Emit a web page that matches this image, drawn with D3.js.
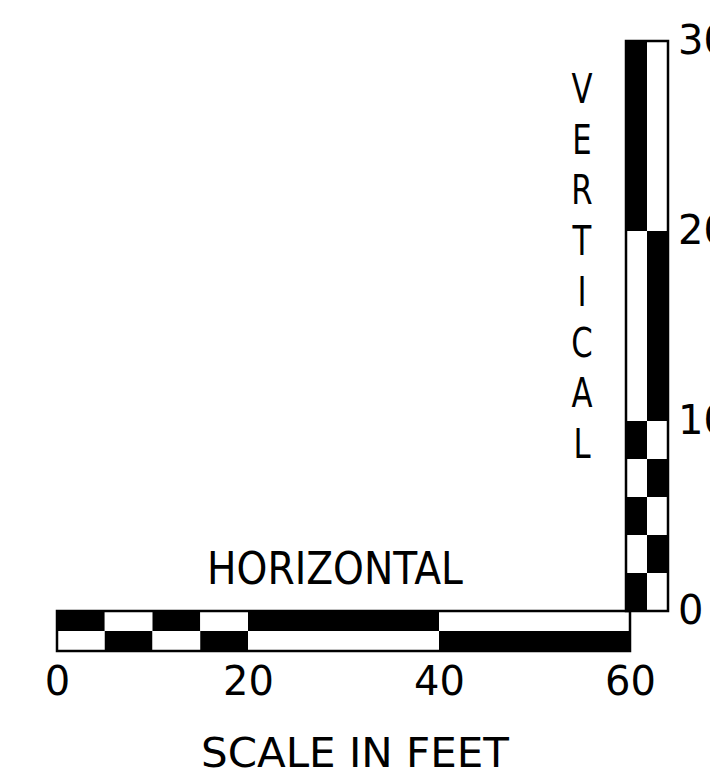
<!DOCTYPE html>
<html>
<head>
<meta charset="utf-8">
<script src="https://cdn.jsdelivr.net/npm/d3@7"></script>
<style>
  html, body { margin: 0; padding: 0; background: #fff; }
  svg text { font-family: "DejaVu Sans", sans-serif; fill: #000; }
</style>
</head>
<body>
<svg id="chart" width="710" height="774"></svg>
<script>
// ---- data ----
const hBreaks = [0, 5, 10, 15, 20, 40, 60];      // feet, horizontal bar segment edges
const hTopShade = [1, 0, 1, 0, 1, 0];             // 1 = dark in upper row
const vBreaks = [0, 2, 4, 6, 8, 10, 20, 30];      // feet, vertical bar segment edges
const vLeftShade = [1, 0, 1, 0, 1, 0, 1];         // 1 = dark in left column
const hTicks = [0, 20, 40, 60];
const vTicks = [0, 10, 20, 30];
const hLabel = "HORIZONTAL";
const vLabel = "VERTICAL";
const unitLabel = "SCALE IN FEET";

// ---- layout ----
const svg = d3.select("#chart");
const x = d3.scaleLinear().domain([0, 60]).range([57, 630]);
const y = d3.scaleLinear().domain([0, 30]).range([611, 41]);
const hBarTop = 611, hRowH = 20;
const vBarLeft = 626, vColW = 21;

function segs(breaks, shade) {
  return d3.pairs(breaks).map((p, i) => ({ a: p[0], b: p[1], s: shade[i] }));
}
const hSegs = segs(hBreaks, hTopShade);
const vSegs = segs(vBreaks, vLeftShade);

// horizontal bar
const hg = svg.append("g");
[0, 1].forEach(row => {
  hg.selectAll(null).data(hSegs).enter().append("rect")
    .attr("x", d => x(d.a)).attr("width", d => x(d.b) - x(d.a))
    .attr("y", hBarTop + row * hRowH).attr("height", hRowH)
    .attr("fill", d => ((row === 0 ? d.s : 1 - d.s) ? "#000" : "#fff"));
});
hg.append("rect").attr("x", x(0)).attr("y", hBarTop)
  .attr("width", x(60) - x(0)).attr("height", 2 * hRowH)
  .attr("fill", "none").attr("stroke", "#000").attr("stroke-width", 2.5);

// vertical bar
const vg = svg.append("g");
[0, 1].forEach(col => {
  vg.selectAll(null).data(vSegs).enter().append("rect")
    .attr("x", vBarLeft + col * vColW).attr("width", vColW)
    .attr("y", d => y(d.b)).attr("height", d => y(d.a) - y(d.b))
    .attr("fill", d => ((col === 0 ? d.s : 1 - d.s) ? "#000" : "#fff"));
});
vg.append("rect").attr("x", vBarLeft).attr("y", y(30))
  .attr("width", 2 * vColW).attr("height", y(0) - y(30))
  .attr("fill", "none").attr("stroke", "#000").attr("stroke-width", 2.5);

// axes (tick labels only)
const xAxis = d3.axisBottom(x).tickValues(hTicks).tickSize(0).tickPadding(16);
const gx = svg.append("g").attr("transform", `translate(0,${hBarTop + 2 * hRowH})`).call(xAxis);
gx.select(".domain").remove();
gx.selectAll("text").attr("font-size", 40).attr("font-family", "DejaVu Sans").attr("fill", "#000");

const yAxis = d3.axisRight(y).tickValues(vTicks).tickSize(0).tickPadding(10);
const gy = svg.append("g").attr("transform", `translate(${vBarLeft + 2 * vColW},0)`).call(yAxis);
gy.select(".domain").remove();
gy.selectAll("text").attr("font-size", 40).attr("font-family", "DejaVu Sans").attr("fill", "#000");

// condensed text helpers
function fitted(txt, cx, baseline, size, width) {
  const t = svg.append("text").attr("font-size", size).attr("text-anchor", "middle").text(txt);
  const w = t.node().getComputedTextLength();
  const s = width / w;
  t.attr("transform", `translate(${cx},${baseline}) scale(${s},1)`);
  return t;
}
function condensed(txt, cx, baseline, size, sx) {
  return svg.append("text").attr("font-size", size).attr("text-anchor", "middle")
    .attr("transform", `translate(${cx},${baseline}) scale(${sx},1)`).text(txt);
}

fitted(hLabel, 335, 584, 44, 256);
fitted(unitLabel, 355, 767, 40, 308);

vLabel.split("").forEach((ch, i) => {
  condensed(ch, 582, 103 + i * 50.7, 41, 0.75);
});
</script>
</body>
</html>
